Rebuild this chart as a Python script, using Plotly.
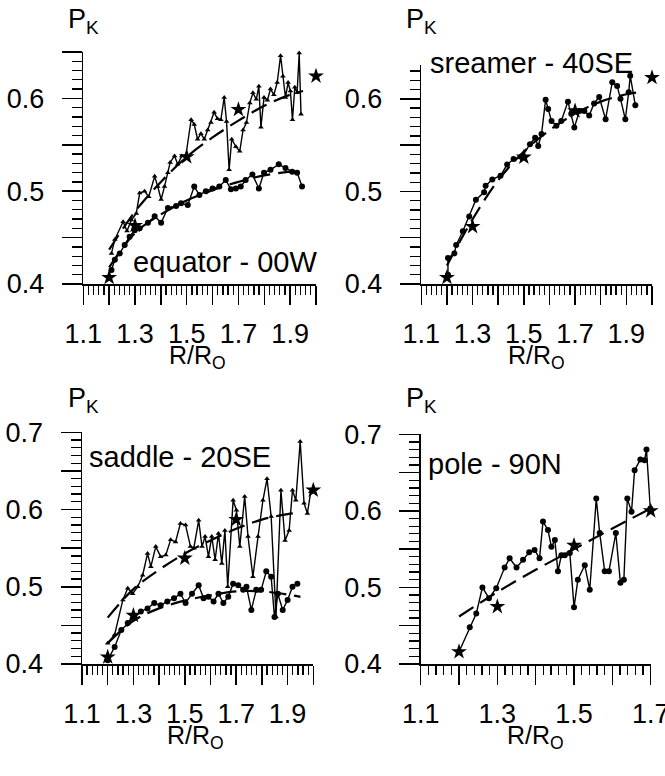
import plotly.graph_objects as go

# ---------------- data ----------------
# Panel 1: equator - 00W
eq_tri_x = [1.209,1.222,1.254,1.269,1.286,1.305,1.318,1.337,1.353,1.376,1.388,1.401,1.414,1.427,1.436,1.453,1.465,1.481,1.497,1.517,1.529,1.542,1.555,1.568,1.581,1.594,1.606,1.619,1.632,1.645,1.654,1.664,1.674,1.69,1.705,1.718,1.731,1.744,1.756,1.769,1.779,1.787,1.799,1.812,1.824,1.837,1.85,1.863,1.872,1.882,1.892,1.901,1.909,1.918,1.927,1.935,1.942]
eq_tri_y = [0.433,0.448,0.467,0.457,0.469,0.476,0.498,0.500,0.494,0.516,0.505,0.491,0.505,0.520,0.531,0.538,0.529,0.538,0.539,0.577,0.572,0.556,0.562,0.556,0.566,0.574,0.585,0.578,0.577,0.601,0.575,0.523,0.556,0.548,0.543,0.566,0.574,0.595,0.606,0.599,0.613,0.569,0.601,0.598,0.610,0.604,0.617,0.646,0.624,0.601,0.617,0.608,0.577,0.612,0.606,0.649,0.583]
eq_cir_x = [1.209,1.222,1.241,1.260,1.279,1.299,1.318,1.350,1.376,1.401,1.427,1.459,1.478,1.504,1.529,1.549,1.574,1.600,1.626,1.651,1.671,1.690,1.709,1.728,1.754,1.779,1.799,1.824,1.856,1.882,1.908,1.927,1.946]
eq_cir_y = [0.415,0.426,0.433,0.442,0.451,0.458,0.460,0.466,0.473,0.466,0.482,0.484,0.487,0.485,0.505,0.496,0.500,0.503,0.505,0.512,0.502,0.503,0.505,0.512,0.518,0.503,0.520,0.523,0.529,0.525,0.521,0.520,0.505]
eq_fit_x = [1.2,1.3,1.4,1.5,1.6,1.7,1.8,1.9,1.95]
eq_fit_up_y = [0.437,0.478,0.510,0.537,0.558,0.576,0.592,0.604,0.608]
eq_fit_lo_y = [0.418,0.455,0.475,0.490,0.501,0.510,0.517,0.521,0.522]

# Panel 2: streamer - 40SE
st_cir_x = [1.204,1.204,1.229,1.236,1.262,1.287,1.313,1.345,1.351,1.377,1.409,1.435,1.460,1.492,1.524,1.544,1.556,1.569,1.585,1.595,1.608,1.627,1.646,1.672,1.685,1.697,1.717,1.736,1.755,1.774,1.794,1.819,1.845,1.864,1.877,1.896,1.909,1.915,1.935]
st_cir_y = [0.410,0.428,0.433,0.442,0.457,0.473,0.491,0.499,0.506,0.513,0.517,0.529,0.535,0.537,0.551,0.558,0.549,0.562,0.599,0.589,0.576,0.571,0.576,0.597,0.584,0.569,0.587,0.587,0.582,0.595,0.602,0.578,0.618,0.614,0.600,0.578,0.607,0.625,0.593]
st_fit_x = [1.2,1.3,1.4,1.5,1.6,1.7,1.8,1.9,1.95]
st_fit_y = [0.420,0.470,0.512,0.543,0.566,0.584,0.597,0.605,0.607]

# Panel 3: saddle - 20SE
sa_tri_x = [1.200,1.227,1.259,1.278,1.297,1.317,1.336,1.355,1.368,1.387,1.406,1.426,1.445,1.464,1.483,1.503,1.522,1.535,1.554,1.567,1.579,1.592,1.605,1.618,1.631,1.644,1.656,1.667,1.688,1.701,1.714,1.733,1.746,1.765,1.785,1.804,1.820,1.836,1.855,1.874,1.890,1.906,1.919,1.932,1.949,1.964,1.977,1.990]
sa_tri_y = [0.427,0.438,0.483,0.498,0.491,0.500,0.515,0.543,0.526,0.552,0.539,0.541,0.561,0.558,0.582,0.580,0.552,0.550,0.586,0.552,0.565,0.539,0.565,0.535,0.569,0.530,0.573,0.500,0.612,0.599,0.552,0.617,0.565,0.513,0.565,0.612,0.640,0.591,0.461,0.625,0.560,0.573,0.625,0.612,0.688,0.608,0.595,0.623]
sa_cir_x = [1.200,1.227,1.253,1.278,1.304,1.329,1.355,1.381,1.406,1.432,1.458,1.483,1.503,1.528,1.554,1.573,1.592,1.612,1.631,1.650,1.669,1.688,1.708,1.727,1.740,1.759,1.778,1.797,1.817,1.836,1.849,1.862,1.881,1.900,1.919,1.938]
sa_cir_y = [0.405,0.422,0.444,0.453,0.461,0.468,0.472,0.479,0.476,0.481,0.485,0.491,0.479,0.491,0.502,0.485,0.487,0.481,0.491,0.479,0.487,0.504,0.502,0.496,0.500,0.470,0.496,0.496,0.520,0.513,0.461,0.491,0.470,0.483,0.500,0.504]
sa_fit_x = [1.2,1.3,1.4,1.5,1.6,1.7,1.8,1.9,1.95]
sa_fit_up_y = [0.460,0.497,0.522,0.543,0.560,0.575,0.587,0.594,0.596]
sa_fit_lo_y = [0.427,0.456,0.472,0.482,0.489,0.494,0.494,0.490,0.487]

# Panel 4: pole - 90N
po_cir_x = [1.200,1.228,1.245,1.261,1.278,1.297,1.319,1.332,1.350,1.367,1.383,1.397,1.410,1.419,1.432,1.441,1.450,1.458,1.467,1.476,1.489,1.500,1.510,1.528,1.541,1.558,1.567,1.580,1.591,1.609,1.621,1.630,1.639,1.650,1.658,1.673,1.684,1.689,1.699]
po_cir_y = [0.416,0.448,0.466,0.500,0.486,0.499,0.526,0.538,0.526,0.536,0.546,0.549,0.538,0.586,0.575,0.553,0.562,0.521,0.542,0.542,0.545,0.474,0.510,0.529,0.497,0.616,0.571,0.521,0.521,0.571,0.506,0.510,0.616,0.599,0.653,0.667,0.666,0.680,0.603]
po_fit_x = [1.2,1.3,1.4,1.5,1.6,1.7]
po_fit_y = [0.462,0.494,0.523,0.550,0.577,0.603]

# reference stars
star_x = [1.2,1.3,1.5,1.7,2.0]
eq_star_y = [0.407,0.463,0.537,0.588,0.624]
st_star_y = [0.407,0.462,0.537,0.587,0.623]
sa_star_y = [0.409,0.463,0.537,0.587,0.625]
po_star_x = [1.2,1.3,1.5,1.7]
po_star_y = [0.416,0.475,0.555,0.600]

panel_labels = ["equator - 00W", "sreamer - 40SE", "saddle - 20SE", "pole - 90N"]

# ---------------- figure ----------------
W, H = 665, 776
FONT = "Liberation Sans, Arial, sans-serif"
def PX(x): return x / W
def PY(y): return 1 - y / H

fig = go.Figure()

def line_tr(x, y, ax, sym=None, size=6):
    mode = "lines+markers" if sym else "lines"
    fig.add_trace(go.Scatter(x=x, y=y, mode=mode, xaxis="x" + ax, yaxis="y" + ax,
                             line=dict(color="black", width=1.4),
                             marker=dict(symbol=sym or "circle", size=size, color="black"),
                             showlegend=False, cliponaxis=False))

def fit_tr(x, y, ax):
    fig.add_trace(go.Scatter(x=x, y=y, mode="lines", xaxis="x" + ax, yaxis="y" + ax,
                             line=dict(color="black", width=2.2, dash="17px,8px", shape="spline"),
                             showlegend=False))

def star_tr(x, y, ax):
    fig.add_trace(go.Scatter(x=x, y=y, mode="markers", xaxis="x" + ax, yaxis="y" + ax,
                             marker=dict(symbol="star", size=12, color="black"),
                             showlegend=False, cliponaxis=False))

# panel 1
fit_tr(eq_fit_x, eq_fit_up_y, "")
fit_tr(eq_fit_x, eq_fit_lo_y, "")
line_tr(eq_tri_x, eq_tri_y, "", "triangle-up", 5)
line_tr(eq_cir_x, eq_cir_y, "", "circle", 6)
star_tr(star_x, eq_star_y, "")
# panel 2
fit_tr(st_fit_x, st_fit_y, "2")
line_tr(st_cir_x, st_cir_y, "2", "circle", 6)
star_tr(star_x, st_star_y, "2")
# panel 3
fit_tr(sa_fit_x, sa_fit_up_y, "3")
fit_tr(sa_fit_x, sa_fit_lo_y, "3")
line_tr(sa_tri_x, sa_tri_y, "3", "triangle-up", 5)
line_tr(sa_cir_x, sa_cir_y, "3", "circle", 6)
star_tr(star_x, sa_star_y, "3")
# panel 4
fit_tr(po_fit_x, po_fit_y, "4")
line_tr(po_cir_x, po_cir_y, "4", "circle", 6)
star_tr(po_star_x, po_star_y, "4")

def xaxis(dom, xmax, yax):
    vals = [round(1.1 + 0.1 * i, 1) for i in range(int(round((xmax - 1.1) / 0.1)) + 1)]
    txt = [("%.1f" % v) if i % 2 == 0 else "" for i, v in enumerate(vals)]
    return dict(domain=[PX(dom[0]), PX(dom[1])], range=[1.1, xmax + 1e-6], anchor=yax, automargin=False,
                showgrid=False, zeroline=False, showline=True, linecolor="black", linewidth=1.5,
                ticks="outside", ticklen=19, tickwidth=1.5, tickcolor="black",
                tickmode="array", tickvals=vals, ticktext=txt, ticklabeloverflow="allow",
                minor=dict(ticks="outside", tickmode="linear", tick0=1.1, dtick=0.02,
                           ticklen=9, tickwidth=1.3, tickcolor="black"),
                tickfont=dict(family=FONT, size=27, color="black"), ticklabelstandoff=6)

def yaxis(dom, ymax, xax):
    n = int(round((ymax - 0.4) / 0.05 + 0.001))
    vals = [round(0.4 + 0.05 * i, 2) for i in range(n + 1)]
    txt = [("%.1f" % v) if i % 2 == 0 else "" for i, v in enumerate(vals)]
    return dict(domain=[PY(dom[1]), PY(dom[0])], range=[0.4, ymax], anchor=xax, automargin=False,
                showgrid=False, zeroline=False, showline=True, linecolor="black", linewidth=1.5,
                ticks="outside", ticklen=20, tickwidth=1.5, tickcolor="black",
                tickmode="array", tickvals=vals, ticktext=txt, ticklabeloverflow="allow",
                minor=dict(ticks="outside", tickmode="linear", tick0=0.4, dtick=0.01,
                           ticklen=10, tickwidth=1.3, tickcolor="black"),
                tickfont=dict(family=FONT, size=27, color="black"), ticklabelstandoff=12)

fig.update_layout(
    xaxis=xaxis((83.3, 316), 2.0, "y"),   yaxis=yaxis((52, 284), 0.65, "x"),
    xaxis2=xaxis((421.3, 652), 2.0, "y2"), yaxis2=yaxis((64.6, 284), 0.637, "x2"),
    xaxis3=xaxis((82, 313.3), 2.0, "y3"), yaxis3=yaxis((432.3, 664), 0.7, "x3"),
    xaxis4=xaxis((420.7, 650.7), 1.7, "y4"), yaxis4=yaxis((434.3, 664), 0.7, "x4"),
)

ann = []
def text(t, x, y, xa, ya, size=26):
    ann.append(dict(text=t, x=PX(x), y=PY(y), xref="paper", yref="paper", xanchor=xa, yanchor=ya,
                    showarrow=False, font=dict(family=FONT, size=size, color="black")))

# y titles
for (x, y) in [(66, 2), (404, 2), (66, 381), (404, 381)]:
    text("P<sub>K</sub>", x, y, "left", "top", 27)
# x titles
for (x, y) in [(197, 339), (536, 339), (196, 719), (535, 719)]:
    text("R/R<sub>O</sub>", x, y, "center", "top", 25)
# panel labels
text(panel_labels[0], 319, 244, "right", "top", 29)
text(panel_labels[1], 428, 45, "left", "top", 29)
text(panel_labels[2], 87, 439, "left", "top", 29)
text(panel_labels[3], 426, 446, "left", "top", 29)

fig.update_layout(annotations=ann, width=W, height=H, autosize=False,
                  margin=dict(l=0, r=0, t=0, b=0), paper_bgcolor="white", plot_bgcolor="white",
                  showlegend=False, font=dict(family=FONT, color="black"))

fig.write_html("out.html", config={"displayModeBar": False, "staticPlot": True},
               post_script="document.body.style.margin='0';document.body.style.padding='0';")
